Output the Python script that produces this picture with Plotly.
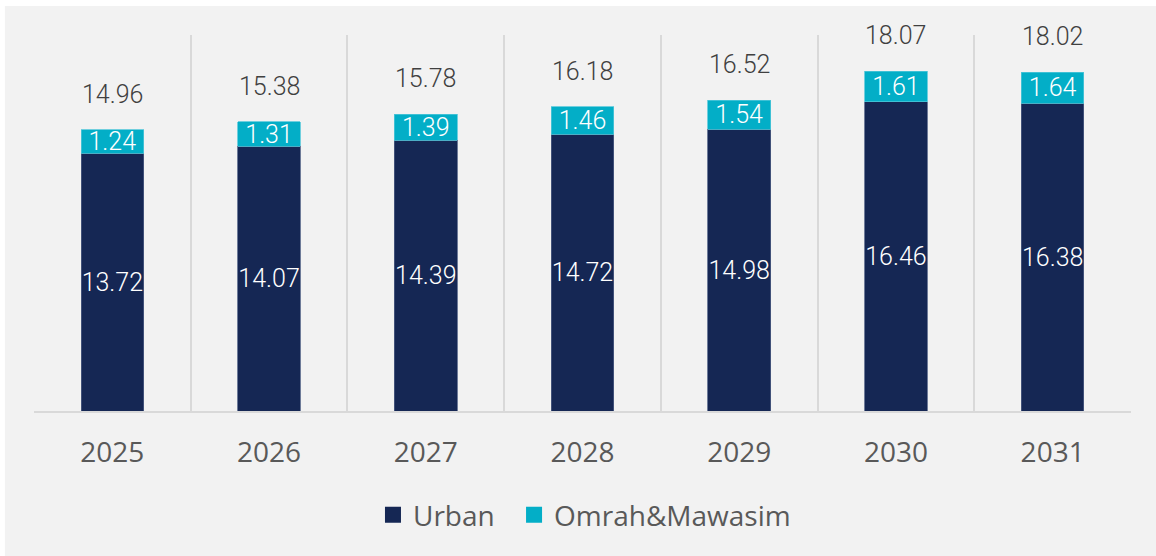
import plotly.graph_objects as go

years = ["2025", "2026", "2027", "2028", "2029", "2030", "2031"]
urban = [13.72, 14.07, 14.39, 14.72, 14.98, 16.46, 16.38]
omrah = [1.24, 1.31, 1.39, 1.46, 1.54, 1.61, 1.64]
totals = [14.96, 15.38, 15.78, 16.18, 16.52, 18.07, 18.02]

NAVY = "#152754"
CYAN = "#03AEC7"
GRID = "#d9d9d9"
LABEL_FONT = "Roboto"
TEXT_FONT = "Open Sans"

fig = go.Figure()

fig.add_trace(go.Bar(
    x=years, y=urban, name="Urban", marker=dict(color=NAVY, line=dict(color="#4c5c82", width=0.8)),
    text=[f"{v:.2f}" for v in urban], textposition="inside", insidetextanchor="middle",
    textangle=0, textfont=dict(family=LABEL_FONT, size=25, weight=300, color="white"),
    constraintext="none", showlegend=False, width=0.4,
))
fig.add_trace(go.Bar(
    x=years, y=omrah, name="Omrah&Mawasim", marker=dict(color=CYAN, line=dict(color="#4fc6d8", width=0.8)),
    text=[f"{v:.2f}" for v in omrah], textposition="inside", insidetextanchor="middle",
    textangle=0, textfont=dict(family=LABEL_FONT, size=25, weight=300, color="white"),
    constraintext="none", showlegend=False, width=0.4,
))

# legend entries with larger square swatches, one legend box each
for name, col, lg in [("Urban", NAVY, "legend"), ("Omrah&Mawasim", CYAN, "legend2")]:
    fig.add_trace(go.Scatter(
        x=[None], y=[None], mode="markers", name=name, legend=lg,
        marker=dict(symbol="square", size=18, color=col),
    ))

# total labels above each stack (category index positions)
for i, t in enumerate(totals):
    fig.add_annotation(
        x=i, y=t, xref="x", yref="y", text=f"{t:.2f}", showarrow=False,
        yanchor="bottom", yshift=19,
        font=dict(family=LABEL_FONT, size=25, weight=300, color="#404040"),
    )

# light grey chart background panel
fig.add_shape(type="rect", xref="paper", yref="paper",
              x0=-0.0265, x1=1.1, y0=-0.5, y1=1.0771,
              fillcolor="#f2f2f2", line=dict(width=0), layer="below")

legend_style = dict(orientation="h", xanchor="left", y=-0.277, yanchor="middle",
                    font=dict(family=TEXT_FONT, size=28, color="#595959"),
                    bgcolor="rgba(0,0,0,0)", itemwidth=30)

fig.update_layout(
    width=1156, height=556,
    margin=dict(l=34, r=25, t=35, b=145),
    paper_bgcolor="white", plot_bgcolor="rgba(0,0,0,0)",
    barmode="stack", bargap=0.6,
    legend=dict(x=0.309, **legend_style),
    legend2=dict(x=0.4376, **legend_style),
    xaxis=dict(
        type="category", tickson="boundaries", showgrid=True, gridcolor=GRID, gridwidth=1.5,
        showline=True, linecolor=GRID, linewidth=1.5, ticks="",
        tickfont=dict(family=TEXT_FONT, size=28, color="#595959"),
        ticklabelstandoff=16, range=[-0.5, 6.5],
    ),
    yaxis=dict(range=[0, 20], visible=False, showgrid=False, zeroline=False),
)

fig.write_html("out.html")
